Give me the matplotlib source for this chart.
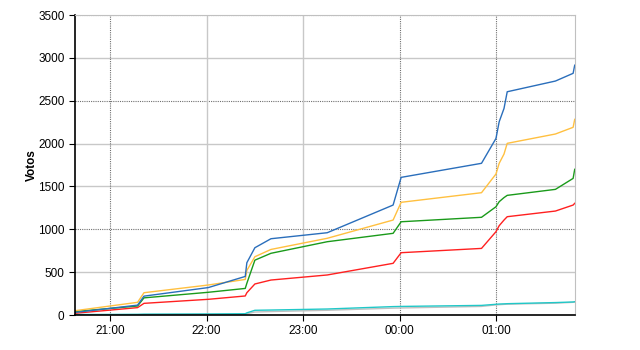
import matplotlib
matplotlib.use("Agg")
import matplotlib.pyplot as plt
import matplotlib.dates as mdates
import pandas as pd

# sample times (evening of day 1, then past midnight)
times = ["20:38", "21:17", "21:21", "22:01", "22:24", "22:25", "22:30", "22:40",
         "23:15", "23:56", "00:01", "00:51", "01:00", "01:02", "01:05", "01:07",
         "01:37", "01:48", "01:49"]

blue = [30, 115, 220, 320, 450, 610, 785, 890, 960, 1283, 1606, 1770, 2060,
        2255, 2410, 2605, 2730, 2820, 2915]
orange = [50, 148, 260, 350, 415, 520, 680, 765, 895, 1108, 1315, 1427, 1645,
          1770, 1878, 2003, 2112, 2190, 2283]
green = [40, 105, 200, 265, 310, 370, 640, 720, 855, 953, 1088, 1140, 1263,
         1322, 1370, 1396, 1466, 1594, 1700]
red = [20, 86, 136, 183, 222, 260, 362, 408, 467, 603, 727, 777, 972, 1042,
       1108, 1147, 1213, 1283, 1303]
cyan = [5, 8, 10, 12, 15, 25, 55, 58, 70, 98, 100, 112, 125, 128, 130, 132,
        145, 152, 155]
gray = [2, 4, 5, 7, 8, 15, 35, 40, 55, 80, 82, 100, 118, 120, 124, 126, 138,
        148, 150]

hour_ticks = ["21:00", "22:00", "23:00", "00:00", "01:00"]
dotted_hours = ["21:00", "00:00", "01:00"]
y_ticks = [0, 500, 1000, 1500, 2000, 2500, 3000, 3500]
dotted_y = [1000, 2500, 3500]


def to_dt(s):
    day = "2000-01-02" if s < "12:00" else "2000-01-01"
    return pd.Timestamp(day + " " + s)


t = [to_dt(s) for s in times]

plt.rcParams['font.family'] = ['Liberation Sans', 'DejaVu Sans']
fig = plt.figure(figsize=(6.4, 3.5), dpi=100)
ax = fig.add_axes([0.117, 0.1, 0.781, 0.857])

# grid lines
for v in y_ticks[1:]:
    if v in dotted_y:
        ax.axhline(v, color='#707070', lw=0.8, ls=(0, (1, 1)), zorder=0)
    else:
        ax.axhline(v, color='#c8c8c8', lw=1.0, zorder=0)
for h in hour_ticks:
    if h in dotted_hours:
        ax.axvline(to_dt(h), color='#707070', lw=0.8, ls=(0, (1, 1)), zorder=0)
    else:
        ax.axvline(to_dt(h), color='#c8c8c8', lw=1.0, zorder=0)

ax.plot(t, gray, color='#c0c0c0', lw=1)
ax.plot(t, cyan, color='#20c8c8', lw=1)
ax.plot(t, red, color='#ff2020', lw=1)
ax.plot(t, green, color='#1a9a1a', lw=1)
ax.plot(t, orange, color='#ffc040', lw=1)
ax.plot(t, blue, color='#2a6ebb', lw=1)

ax.set_xlim(to_dt("20:38"), to_dt("01:49"))
ax.set_ylim(0, 3500)
ax.set_yticks(y_ticks)
ax.set_xticks([to_dt(h) for h in hour_ticks])
ax.xaxis.set_major_formatter(mdates.DateFormatter("%H:%M"))
ax.tick_params(labelsize=8.5, length=4, width=0.8, colors='black')
ax.set_ylabel("Votos", fontsize=8.5, fontweight='bold')
ax.yaxis.set_label_coords(-0.074, 0.5)

for side in ['top', 'right']:
    ax.spines[side].set_color('#c0c0c0')
for side in ['left', 'bottom']:
    ax.spines[side].set_color('black')
    ax.spines[side].set_linewidth(1.2)

fig.savefig("out.png", dpi=100)
